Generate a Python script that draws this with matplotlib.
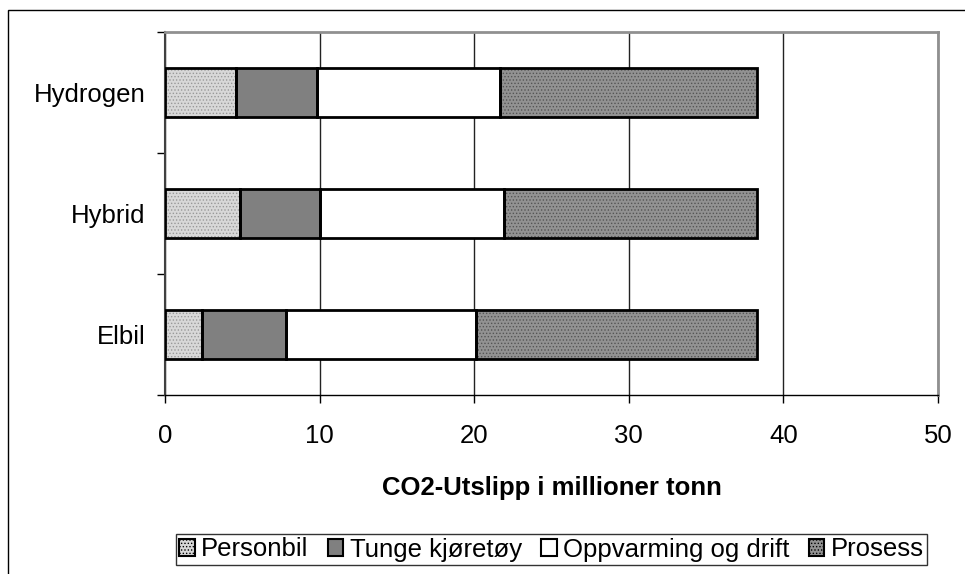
import matplotlib.pyplot as plt
from matplotlib.patches import Rectangle, Patch

plt.rcParams['font.family'] = ['Liberation Sans', 'DejaVu Sans']
plt.rcParams['hatch.linewidth'] = 0.6

# CO2 emissions per scenario, million tonnes
scenarios = ['Elbil', 'Hybrid', 'Hydrogen']
personbil = [2.4, 4.85, 4.6]
tunge = [5.4, 5.2, 5.2]
oppvarming = [12.3, 11.85, 11.9]
prosess = [18.2, 16.4, 16.6]

# name, values, fill, dot pattern colour
series = [
    ('Personbil', personbil, '#d8d8d8', '#999999'),
    ('Tunge kjøretøy', tunge, '#808080', None),
    ('Oppvarming og drift', oppvarming, '#ffffff', None),
    ('Prosess', prosess, '#929292', '#555555'),
]

fig = plt.figure(figsize=(9.65, 5.74), dpi=100)
ax = fig.add_axes([165 / 965, 1 - 395 / 574, 773 / 965, 363 / 574])

y = list(range(len(scenarios)))
left = [0.0] * len(scenarios)
for name, vals, col, dots in series:
    ax.barh(y, vals, left=left, height=0.405, color=col,
            edgecolor='none', zorder=3)
    if dots:
        ax.barh(y, vals, left=left, height=0.405, color='none',
                edgecolor=dots, hatch='.....', linewidth=0, zorder=4)
    ax.barh(y, vals, left=left, height=0.405, color='none',
            edgecolor='black', linewidth=2, zorder=5)
    left = [a + b for a, b in zip(left, vals)]

ax.set_xlim(0, 50)
ax.set_ylim(-0.5, 2.5)
ax.set_xticks([0, 10, 20, 30, 40, 50])
ax.set_yticks(y)
ax.set_yticklabels(scenarios)
ax.set_yticks([-0.5, 0.5, 1.5, 2.5], minor=True)

ax.tick_params(axis='x', direction='out', length=6, width=1, pad=15,
               labelsize=18.5, colors='black')
ax.tick_params(axis='y', which='major', length=0, pad=14, labelsize=18.5)
ax.tick_params(axis='y', which='minor', direction='out', length=6, width=1)

ax.grid(axis='x', color='#222222', linewidth=1, zorder=0)

ax.spines['top'].set_color('#909090')
ax.spines['top'].set_linewidth(2)
ax.spines['right'].set_color('#909090')
ax.spines['right'].set_linewidth(2)
ax.spines['left'].set_color('#404040')
ax.spines['left'].set_linewidth(1.5)
ax.spines['bottom'].set_color('black')
ax.spines['bottom'].set_linewidth(1)

ax.set_xlabel('CO2-Utslipp i millioner tonn', fontsize=18.5,
              fontweight='bold', labelpad=20)

handles = [Patch(facecolor=col, edgecolor='black', linewidth=1.5,
                 hatch='.....' if dots else None, label=name)
           for name, vals, col, dots in series]
leg = fig.legend(handles=handles, loc='center', ncol=4,
                 bbox_to_anchor=(551.5 / 965, 1 - 549.5 / 574),
                 fontsize=18.5, frameon=True, fancybox=False,
                 edgecolor='black', handlelength=0.6, handleheight=0.6,
                 handletextpad=0.25, columnspacing=0.75, borderpad=0.15,
                 borderaxespad=0)
leg.get_frame().set_linewidth(1)

# outer chart border
fig.add_artist(Rectangle((8 / 965, -0.05), 1.0, 1 - 10 / 574 + 0.05,
                         transform=fig.transFigure, fill=False,
                         edgecolor='black', linewidth=1))

fig.savefig('out.png', dpi=100)
